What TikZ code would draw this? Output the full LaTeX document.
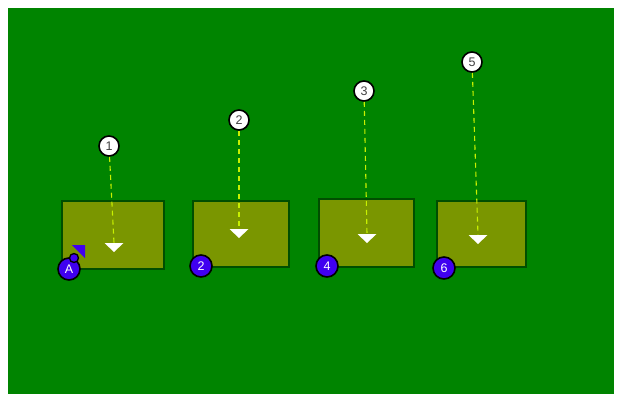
\documentclass[tikz,border=0pt]{standalone}
\usepackage{fontspec}
\setmainfont{Liberation Sans}
\usetikzlibrary{arrows.meta}
\definecolor{field}{RGB}{0,132,0}
\definecolor{zonecol}{RGB}{122,150,0}
\definecolor{zoneline}{RGB}{0,78,0}
\definecolor{routecol}{RGB}{200,240,0}
\definecolor{playercol}{RGB}{64,0,240}
\tikzset{
  zonebox/.style={draw=zoneline, line width=1.6pt, fill=zonecol},
  target/.style={circle, draw=black, line width=1.6pt, fill=white, inner sep=0pt,
    minimum size=20pt, text=black!75, font=\fontsize{12.5}{12.5}\selectfont},
  player/.style={circle, draw=black, line width=1.6pt, fill=playercol, inner sep=0pt,
    minimum size=22pt, text=white, font=\fontsize{12.5}{12.5}\selectfont},
  route/.style={draw=routecol, line width=1.1pt, dash pattern=on 5pt off 4pt},
  drop/.style={fill=white}
}
\begin{document}
\begin{tikzpicture}[x=1pt, y=-1pt]
      \useasboundingbox (0,0) rectangle (621,402);
      \fill[field] (8,8) rectangle (614,394);
      % zones
      \draw[zonebox] (62,201) rectangle (164,269);
      \draw[zonebox] (193,201) rectangle (289,267);
      \draw[zonebox] (319,199) rectangle (414,267);
      \draw[zonebox] (437,201) rectangle (526,267);
      % targets
      \node[target] (c1) at (109,146) {1};
      \node[target] (c2) at (239,120) {2};
      \node[target] (c3) at (364,91) {3};
      \node[target] (c5) at (472,62) {5};
      \coordinate (t1) at (114,243);
      \coordinate (t2) at (239,229);
      \coordinate (t3) at (367,234);
      \coordinate (t5) at (478,235);
      % routes
      \draw[route] (c1) -- (t1);
      \draw[route] (c2) -- (t2);
      \draw[route] (c3) -- (t3);
      \draw[route] (c5) -- (t5);
      \fill[drop] (t1) ++(-9.5,0) -- ++(19,0) -- ++(-9.5,9) -- cycle;
      \fill[drop] (t2) ++(-9.5,0) -- ++(19,0) -- ++(-9.5,9) -- cycle;
      \fill[drop] (t3) ++(-9.5,0) -- ++(19,0) -- ++(-9.5,9) -- cycle;
      \fill[drop] (t5) ++(-9.5,0) -- ++(19,0) -- ++(-9.5,9) -- cycle;
      % players
      \fill[playercol] (72,245) -- (85,245) -- (85,258) -- cycle;
      \node[player] (pA) at (69,269) {A};
      \node[circle, draw=black, line width=1.3pt, fill=playercol, inner sep=0pt, minimum size=9pt] (pAa) at (74,258) {};
      \node[player] (p2) at (201,266) {2};
      \node[player] (p4) at (327,266) {4};
      \node[player] (p6) at (444,268) {6};
\end{tikzpicture}
\end{document}
